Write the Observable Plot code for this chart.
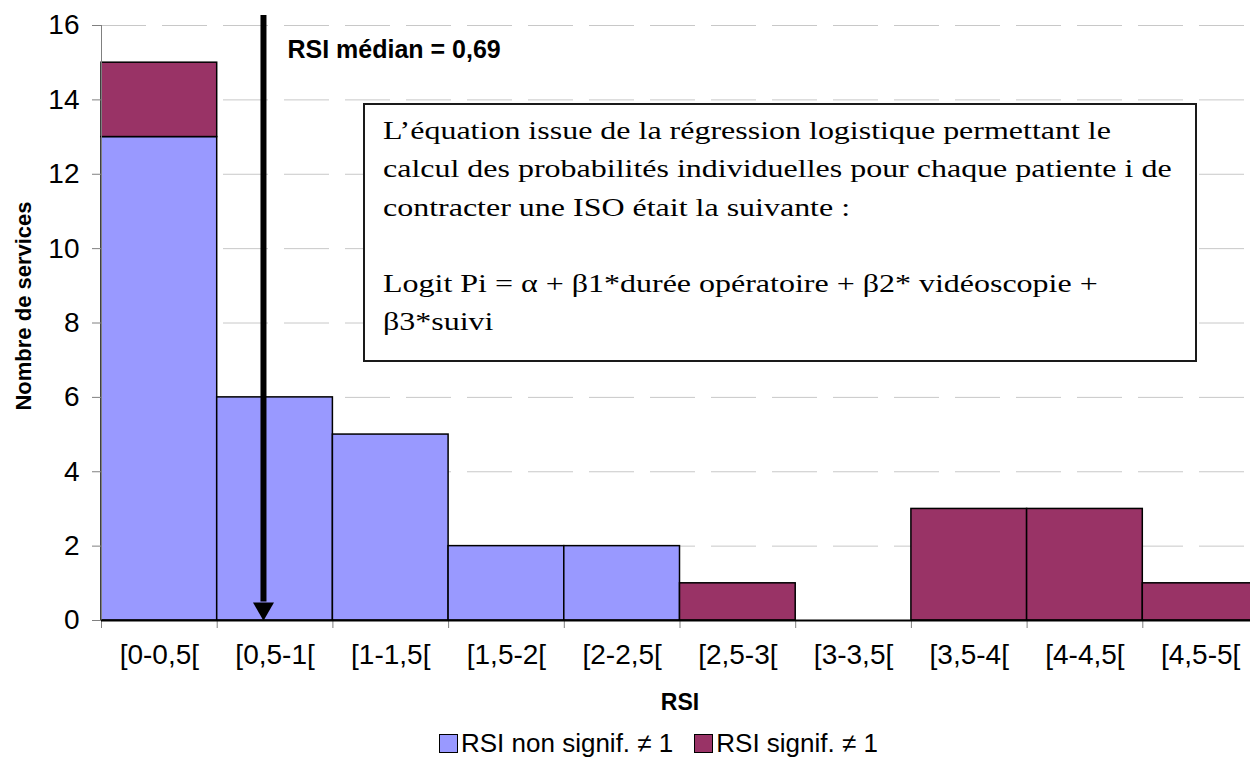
<!DOCTYPE html>
<html>
<head>
<meta charset="utf-8">
<script src="https://cdn.jsdelivr.net/npm/d3@7"></script>
<script src="https://cdn.jsdelivr.net/npm/@observablehq/plot@0.6"></script>
<style>
  html, body { margin: 0; padding: 0; background: #fff; overflow: hidden; }
  #wrap { position: relative; width: 1262px; font-family: "Liberation Sans", Arial, sans-serif; }
  #box {
    position: absolute; left: 363px; top: 103px; width: 830px; height: 255px;
    border: 2px solid #1a1a1a; background: #fff; box-sizing: content-box;
    font-family: "Liberation Serif", "Times New Roman", serif; font-size: 26px;
    line-height: 38.3px; white-space: nowrap; color: #000;
  }
  #box .inner { position: absolute; left: 18px; top: 7px; transform: scaleX(1.23); transform-origin: 0 0; }
  #legend { display: flex; justify-content: flex-start; align-items: center; padding-left: 439px;
    height: 46px; font-size: 26px; color: #000; }
  #legend .sw { width: 17px; height: 17px; border: 1.5px solid #000; margin-right: 3px; }
  #legend .item { display: flex; align-items: center; margin-right: 21px; }
</style>
</head>
<body>
<div id="wrap">
  <div id="chart"></div>
  <div id="legend"></div>
  <div id="box"><div class="inner"></div></div>
</div>
<script>
const categories = ["[0-0,5[","[0,5-1[","[1-1,5[","[1,5-2[","[2-2,5[","[2,5-3[","[3-3,5[","[3,5-4[","[4-4,5[","[4,5-5["];
const binLow  = [0, 0.5, 1, 1.5, 2, 2.5, 3, 3.5, 4, 4.5];
const binHigh = [0.5, 1, 1.5, 2, 2.5, 3, 3.5, 4, 4.5, 5];
const nonSignif = [13, 6, 5, 2, 2, 0, 0, 0, 0, 0];
const signif    = [2, 0, 0, 0, 0, 1, 0, 3, 3, 1];
const yTicks = [0, 2, 4, 6, 8, 10, 12, 14, 16];
const xEdges = [0, 0.5, 1, 1.5, 2, 2.5, 3, 3.5, 4, 4.5, 5];
const seriesNames = ["RSI non signif. \u2260 1", "RSI signif. \u2260 1"];
const seriesColors = ["#9999FF", "#993366"];
const xLabel = "RSI";
const yLabel = "Nombre de services";
const medianLabel = "RSI médian = 0,69";
const medianArrowX = 0.70;
const boxLines = [
  "L\u2019équation issue de la régression logistique permettant le",
  "calcul des probabilités individuelles pour chaque patiente i de",
  "contracter une ISO était la suivante :",
  "",
  "Logit Pi = \u03b1 + \u03b21*durée opératoire + \u03b22* vidéoscopie +",
  "\u03b23*suivi"
];

const rows = [];
categories.forEach((c, i) => {
  if (nonSignif[i] > 0) rows.push({x1: binLow[i], x2: binHigh[i], y1: 0, y2: nonSignif[i], series: seriesNames[0]});
  if (signif[i] > 0) rows.push({x1: binLow[i], x2: binHigh[i], y1: nonSignif[i], y2: nonSignif[i] + signif[i], series: seriesNames[1]});
});
const labels = categories.map((c, i) => ({x: (binLow[i] + binHigh[i]) / 2, label: c}));

const chart = Plot.plot({
  width: 1260, height: 720,
  marginLeft: 101, marginRight: 2, marginTop: 25, marginBottom: 100,
  style: {fontFamily: "'Liberation Sans', Arial, sans-serif", color: "#000", background: "transparent", overflow: "visible"},
  x: {domain: [0, 5], axis: null},
  y: {domain: [0, 16], axis: null},
  color: {domain: seriesNames, range: seriesColors},
  marks: [
    Plot.ruleY(yTicks.filter(d => d > 0), {stroke: "#c8c8c8", strokeWidth: 1, strokeDasharray: "45,16"}),
    Plot.rect(rows, {x1: "x1", x2: "x2", y1: "y1", y2: "y2", fill: "series", stroke: "#000", strokeWidth: 1.5}),
    Plot.ruleX([0], {y1: 0, y2: 16, stroke: "#808080", strokeWidth: 1}),
    Plot.axisY({ticks: yTicks, tickSize: 9, tickPadding: 13, fontSize: 28, stroke: "#808080", tickFormat: d => String(d), label: null}),
    Plot.axisX({ticks: xEdges, tickSize: 8, tickFormat: () => "", stroke: "#808080", label: null}),
    Plot.ruleY([0], {stroke: "#000", strokeWidth: 2}),
    Plot.text(labels, {x: "x", y: 0, text: "label", dy: 35, fontSize: 28, fill: "#000"}),
    Plot.text([xLabel], {frameAnchor: "bottom", lineAnchor: "middle", textAnchor: "middle", dy: 82, fontSize: 23, fontWeight: "bold", fill: "#000"}),
    Plot.text([yLabel], {frameAnchor: "left", textAnchor: "middle", lineAnchor: "middle", dx: -78, dy: -17, rotate: -90, fontSize: 22, fontWeight: "bold", fill: "#000"}),
    Plot.ruleX([medianArrowX], {y1: 16, y2: 0.5, insetTop: -10, stroke: "#000", strokeWidth: 6}),
    Plot.dot([medianArrowX], {x: d => d, y: 0, symbol: "triangle", r: 7.8, rotate: 180, dy: -12, fill: "#000", stroke: "none"}),
    Plot.text([medianLabel], {x: medianArrowX, y: 16, dx: 24, dy: 24, textAnchor: "start", fontSize: 25, fontWeight: "bold", fill: "#000"})
  ]
});
document.getElementById("chart").appendChild(chart);

const legend = document.getElementById("legend");
seriesNames.forEach((s, i) => {
  const item = document.createElement("div");
  item.className = "item";
  const sw = document.createElement("div");
  sw.className = "sw";
  sw.style.background = seriesColors[i];
  const t = document.createElement("span");
  t.textContent = s;
  item.appendChild(sw); item.appendChild(t);
  legend.appendChild(item);
});

document.querySelector("#box .inner").innerHTML = boxLines.map(l => l === "" ? "&nbsp;" : l.replace(/&/g, "&amp;")).join("<br>");
</script>
</body>
</html>
